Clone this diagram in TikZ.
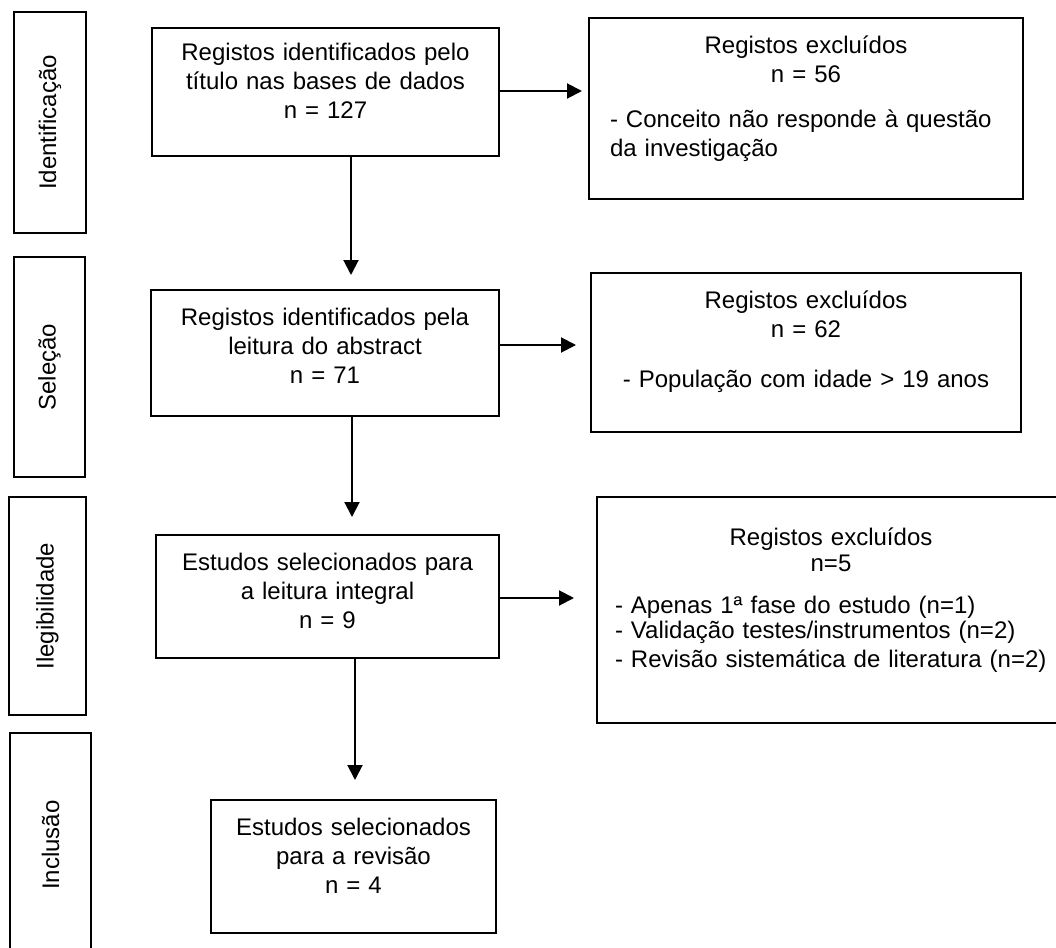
\documentclass[tikz,border=0pt]{standalone}
\usepackage{fontspec}
\setmainfont{Liberation Sans}
\usetikzlibrary{arrows.meta}

\tikzset{
  stage/.style={draw, line width=1pt, inner xsep=0pt, inner ysep=0pt, anchor=base,
    align=center, font=\fontsize{12}{14.5}\selectfont},
  excl/.style={stage, align=left},
  phase/.style={draw, line width=1pt, rotate=90, inner sep=0pt,
    font=\fontsize{12}{14.5}\selectfont},
  flow/.style={-{Triangle[length=7.5pt,width=7.5pt]}, line width=1pt}
}

\begin{document}
\begin{tikzpicture}[x=0.5pt, y=-0.5pt]
  \useasboundingbox (0,0) rectangle (1056,948);
  \node[phase, minimum width=110.5pt, minimum height=36pt] (p1) at (50,122.5) {Identificação};
  \node[phase, minimum width=110pt, minimum height=35.5pt] (p2) at (49.5,367) {Seleção};
  \node[phase, minimum width=109pt, minimum height=38.5pt] (p3) at (47.5,606) {Ilegibilidade};
  \node[phase, minimum width=112pt, minimum height=40.5pt] (p4) at (50.5,845) {Inclusão};
  \node[stage, text width=173.5pt, text height=16pt, text depth=48pt] (b1) at (325.5,60)
    {Registos identificados pelo\\título nas bases de dados\\n = 127};
  \node[stage, text width=174pt, text height=17.5pt, text depth=45.5pt] (b2) at (325,325)
    {Registos identificados pela\\leitura do abstract\\n = 71};
  \node[stage, text width=171.5pt, text height=17.5pt, text depth=44pt] (b3) at (327.5,570)
    {Estudos selecionados para\\a leitura integral\\n = 9};
  \node[stage, text width=142.5pt, text height=17.5pt, text depth=49pt] (b4) at (353.5,835)
    {Estudos selecionados\\para a revisão\\n = 4};
  \node[excl, inner xsep=10.5pt, text width=196pt, text height=17.5pt, text depth=73pt] (e1) at (806,53)
    {{\centering Registos excluídos\\n = 56\par}\vspace{8pt}- Conceito não responde à questão\\da investigação};
  \node[stage, text width=215pt, text height=17.5pt, text depth=62pt] (e2) at (806,308)
    {Registos excluídos\\n = 62\\[10.5pt]- População com idade > 19 anos};
  \node[excl, inner xsep=9pt, text width=216pt, text height=24pt, text depth=89pt] (e3) at (831,545)
    {\lineskiplimit=-20pt{\centering\baselineskip=13pt Registos excluídos\\n=5\par}\vspace{9pt}\baselineskip=12.3pt
     - Apenas 1ª fase do estudo (n=1)\par
     - Validação testes/instrumentos (n=2)\par
     - Revisão sistemática de literatura (n=2)};
  \coordinate (t1) at (351,275);
  \coordinate (t2) at (352,517);
  \coordinate (t3) at (355,780);
  \coordinate (r1) at (582,91);
  \coordinate (r2) at (576,345);
  \coordinate (r3) at (574,598);
  \draw[flow] (b1.south -| t1) to (t1);
  \draw[flow] (b2.south -| t2) to (t2);
  \draw[flow] (b3.south -| t3) to (t3);
  \draw[flow] (b1.east |- r1) to (r1);
  \draw[flow] (b2.east |- r2) to (r2);
  \draw[flow] (b3.east |- r3) to (r3);
\end{tikzpicture}
\end{document}
